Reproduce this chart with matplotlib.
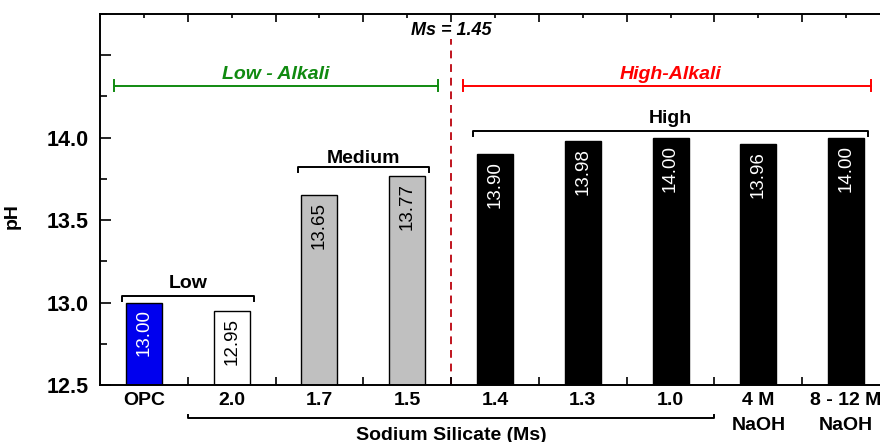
import numpy as np
import matplotlib
matplotlib.use("Agg")
import matplotlib.pyplot as plt
from matplotlib.ticker import MultipleLocator, FixedLocator, FuncFormatter

plt.rcParams['font.family'] = ['Liberation Sans', 'DejaVu Sans']

# data
categories = ["OPC", "2.0", "1.7", "1.5", "1.4", "1.3", "1.0", "4 M\nNaOH", "8 - 12 M\nNaOH"]
ph_values = [13.00, 12.95, 13.65, 13.77, 13.90, 13.98, 14.00, 13.96, 14.00]
bar_colors = ["#0000ee", "white", "#c0c0c0", "#c0c0c0", "black", "black", "black", "black", "black"]
label_colors = ["white", "black", "black", "black", "white", "white", "white", "white", "white"]
ms_split = 1.45

fig = plt.figure(figsize=(8.8, 4.42), dpi=100)
ax = fig.add_axes([100 / 880, 57 / 442, 790 / 880, 371 / 442])

x = np.arange(len(categories))
ax.bar(x, np.array(ph_values) - 12.5, bottom=12.5, width=0.41, color=bar_colors,
       edgecolor="black", linewidth=1.0, zorder=2)

for xi, v, c in zip(x, ph_values, label_colors):
    ax.annotate(f"{v:.2f}", (xi, v), xytext=(0, -5), textcoords="offset points",
                rotation=90, ha="center", va="top", color=c, fontsize=13.5, zorder=3)

ax.set_xlim(-0.5, 8.5)
ax.set_ylim(12.5, 14.75)

# axis styling
for s in ax.spines.values():
    s.set_linewidth(1.4)
ax.xaxis.set_major_locator(FixedLocator(x))
ax.set_xticklabels(categories, fontsize=14, fontweight="bold", linespacing=1.6)
ax.xaxis.set_minor_locator(FixedLocator(x[:-1] + 0.5))
ax.yaxis.set_major_locator(MultipleLocator(0.5))
ax.yaxis.set_minor_locator(MultipleLocator(0.25))
ax.yaxis.set_major_formatter(FuncFormatter(lambda v, p: f"{v:.1f}" if v <= 14.0 else ""))
ax.tick_params(axis="y", which="major", direction="in", length=8, width=1.2,
               labelsize=15.5, pad=8)
ax.tick_params(axis="y", which="minor", direction="in", length=5, width=1.2)
ax.tick_params(axis="x", which="major", direction="in", length=3, width=1.2, top=True, pad=5)
ax.tick_params(axis="x", which="minor", direction="in", length=6, width=1.2, top=True)
for lab in ax.get_yticklabels():
    lab.set_fontweight("bold")
ax.set_ylabel("pH", fontsize=14, fontweight="bold")
ax.yaxis.set_label_coords(-0.101, 0.455)

# Ms split line
ax.axvline(3.5, ymin=0, ymax=(14.6 - 12.5) / 2.25, color="#c0141e", linestyle=(0, (4, 3)),
           linewidth=1.4, zorder=1)
ax.text(3.5, 14.625, f"Ms = {ms_split:.2f}", ha="center", va="baseline", fontsize=13,
        fontweight="bold", fontstyle="italic")

# alkali ranges
def span(x0, x1, y, color, cap=0.035):
    ax.plot([x0, x1], [y, y], color=color, linewidth=1.4, clip_on=False)
    for xe in (x0, x1):
        ax.plot([xe, xe], [y - cap, y + cap], color=color, linewidth=1.4, clip_on=False)

span(-0.34, 3.35, 14.315, "#108a10")
ax.text(1.5, 14.358, "Low - Alkali", color="#108a10", ha="center", va="baseline",
        fontsize=14, fontweight="bold", fontstyle="italic")
span(3.64, 8.28, 14.315, "#ff0000")
ax.text(6.0, 14.358, "High-Alkali", color="#ff0000", ha="center", va="baseline",
        fontsize=14, fontweight="bold", fontstyle="italic")

# group brackets
def bracket(x0, x1, y, text, ty, drop=0.03):
    ax.plot([x0, x0, x1, x1], [y - drop, y, y, y - drop], color="black", linewidth=1.4)
    ax.text((x0 + x1) / 2, ty, text, ha="center", va="baseline", fontsize=14, fontweight="bold")

bracket(-0.25, 1.25, 13.04, "Low", 13.089)
bracket(1.75, 3.25, 13.82, "Medium", 13.848)
bracket(3.75, 8.25, 14.04, "High", 14.09)

# sodium silicate bracket below axis
ax.plot([0.5, 0.5, 6.5, 6.5], [12.319, 12.30, 12.30, 12.319], color="black",
        linewidth=1.4, clip_on=False)
ax.text(3.5, 12.165, "Sodium Silicate (Ms)", ha="center", va="baseline", fontsize=14,
        fontweight="bold")

fig.savefig("out.png", dpi=100)
